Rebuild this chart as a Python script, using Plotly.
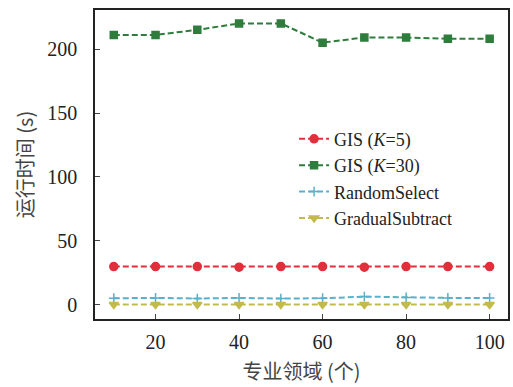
import plotly.graph_objects as go

x_vals = [10, 20, 30, 40, 50, 60, 70, 80, 90, 100]
gis_k5 = [30, 30, 30, 29.5, 30, 30, 29.5, 30, 30, 30]
gis_k30 = [211, 211, 215, 220, 220, 205, 209, 209, 208, 208]
random_select = [5.2, 5.5, 5.0, 5.5, 5.0, 5.2, 6.5, 5.8, 5.5, 5.5]
gradual_subtract = [0.3, 0.3, 0.3, 0.3, 0.3, 0.3, 0.3, 0.3, 0.3, 0.3]

series_names = ["GIS (<i>K</i>=5)", "GIS (<i>K</i>=30)", "RandomSelect", "GradualSubtract"]
x_ticks = [20, 40, 60, 80, 100]
y_ticks = [0, 50, 100, 150, 200]

serif = "Liberation Serif"
cjk = "Noto Sans CJK SC"

fig = go.Figure()
styles = [
    (gis_k5, "#e0303c", "circle", 8),
    (gis_k30, "#2f7d3c", "square", 7),
    (random_select, "#5ab0c8", "cross-thin", 7),
    (gradual_subtract, "#c2bb4c", "triangle-down", 8),
]
for name, (vals, color, sym, size) in zip(series_names, styles):
    fig.add_trace(go.Scatter(
        x=x_vals, y=vals, name=name, mode="lines+markers",
        line=dict(color=color, width=2, dash="6px,3px"),
        marker=dict(color=color, symbol=sym, size=size,
                    line=dict(color=color, width=1.5)),
    ))

fig.update_layout(
    width=513, height=387,
    margin=dict(l=95, r=3, t=10, b=68),
    paper_bgcolor="white", plot_bgcolor="white",
    font=dict(family=serif, size=20, color="#222"),
    showlegend=True,
    legend=dict(x=0.482, y=0.642, xanchor="left", yanchor="top",
                bgcolor="rgba(0,0,0,0)", font=dict(family=serif, size=18, color="#222"),
                tracegroupgap=0, itemwidth=30),
)
fig.update_xaxes(
    range=[5.5, 104.4], tickvals=x_ticks, ticks="inside", ticklen=5,
    showline=True, linecolor="#222", linewidth=1.5, mirror=True,
    showgrid=False, zeroline=False, ticklabelstandoff=4,
    title=dict(text="专业领域 (个)", font=dict(family=cjk, size=20, color="#444"), standoff=13),
)
fig.update_yaxes(
    range=[-11, 230.5], tickvals=y_ticks, ticks="inside", ticklen=5,
    showline=True, linecolor="#222", linewidth=1.5, mirror=True,
    showgrid=False, zeroline=False, ticklabelstandoff=12,
    title=dict(text="运行时间 (s)", font=dict(family=cjk, size=20, color="#444"), standoff=8),
)

fig.write_html("out.html")
